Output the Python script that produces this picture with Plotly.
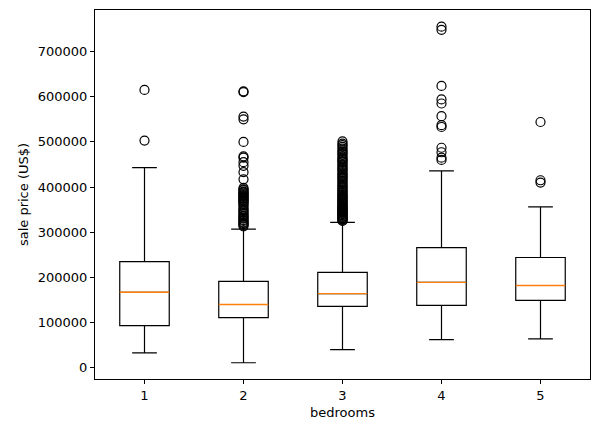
import plotly.graph_objects as go

# box statistics
bedrooms = [1, 2, 3, 4, 5]
q1 = [93000, 111000, 136000, 138000, 149000]
median = [167000, 140000, 164000, 189000, 182000]
q3 = [235000, 191000, 211000, 266000, 244000]
low_whisker = [33000, 11000, 40000, 62000, 64000]
high_whisker = [443000, 307000, 322000, 436000, 356000]

# fliers per bedroom count
outliers = {
    1: [615000, 503000],
    2: [612000, 610000, 556000, 550000, 500000, 468000, 465000, 455000, 447000,
        433000, 417000, 398000, 395000, 393000, 390000, 388000, 386000, 384000,
        382000, 380000, 378000, 376000, 374000, 372000, 370000, 368000, 366000,
        363000, 360000, 356000, 352000, 349000, 346000, 343000, 340000, 337000,
        335000, 332000, 330000, 327000, 325000, 322000, 320000, 318000, 316000,
        313000],
    3: [501000, 496000, 493000, 489000, 485000, 481000, 478000, 475000, 472000,
        468000, 465000, 462000, 460000, 457000, 455000, 451000, 448000, 445000,
        442000, 439000, 437000, 433000, 430000, 427000, 425000, 422000, 420000,
        417000, 414000, 411000, 408000, 405000, 402000, 400000, 397000, 394000,
        392000, 389000, 387000, 384000, 382000, 380000, 378000, 376000, 374000,
        372000, 370000, 368000, 366000, 364000, 362000, 360000, 358000, 356000,
        355000, 353000, 352000, 350000, 349000, 347000, 346000, 344000, 343000,
        341000, 340000, 338000, 337000, 335000, 334000, 332000, 331000, 329000,
        328000, 326000, 325000],
    4: [755000, 748000, 624000, 594000, 585000, 557000, 537000, 533000, 487000,
        477000, 465000, 460000],
    5: [544000, 415000, 410000],
}

font = "DejaVu Sans"
fig = go.Figure()

fig.add_trace(go.Box(
    x=bedrooms, q1=q1, median=median, q3=q3,
    lowerfence=low_whisker, upperfence=high_whisker,
    boxpoints=False, width=0.5, whiskerwidth=0.5,
    fillcolor="rgba(0,0,0,0)", line=dict(color="black", width=1.2),
    showlegend=False, hoverinfo="skip",
))

# orange median lines over the black ones
mx, my = [], []
for b, m in zip(bedrooms, median):
    mx += [b - 0.25, b + 0.25, None]
    my += [m, m, None]
fig.add_trace(go.Scatter(x=mx, y=my, mode="lines",
                         line=dict(color="#ff7f0e", width=1.4),
                         showlegend=False, hoverinfo="skip"))

ox, oy = [], []
for b in bedrooms:
    ox += [b] * len(outliers[b])
    oy += outliers[b]
fig.add_trace(go.Scatter(x=ox, y=oy, mode="markers",
                         marker=dict(symbol="circle-open", size=9, color="black",
                                     line=dict(width=1.2)),
                         showlegend=False))

axis_style = dict(showline=True, linecolor="black", linewidth=1.2, mirror=True,
                  ticks="outside", ticklen=4, tickcolor="black", showgrid=False,
                  zeroline=False, tickfont=dict(family=font, size=13, color="black"))

# page body has an 8px margin, so the figure is sized to fit the window
fig.update_layout(
    width=591, height=425,
    margin=dict(l=87, r=9, t=2, b=54),
    paper_bgcolor="white", plot_bgcolor="white",
    font=dict(family=font, size=13, color="black"),
    xaxis=dict(range=[0.5, 5.5], tickvals=bedrooms,
               title=dict(text="bedrooms", font=dict(family=font, size=13), standoff=6),
               **axis_style),
    yaxis=dict(range=[-25000, 792000], dtick=100000, tickformat="d",
               title=dict(text="sale price (US$)", font=dict(family=font, size=13), standoff=6),
               **axis_style),
)

fig.write_html("out.html")
